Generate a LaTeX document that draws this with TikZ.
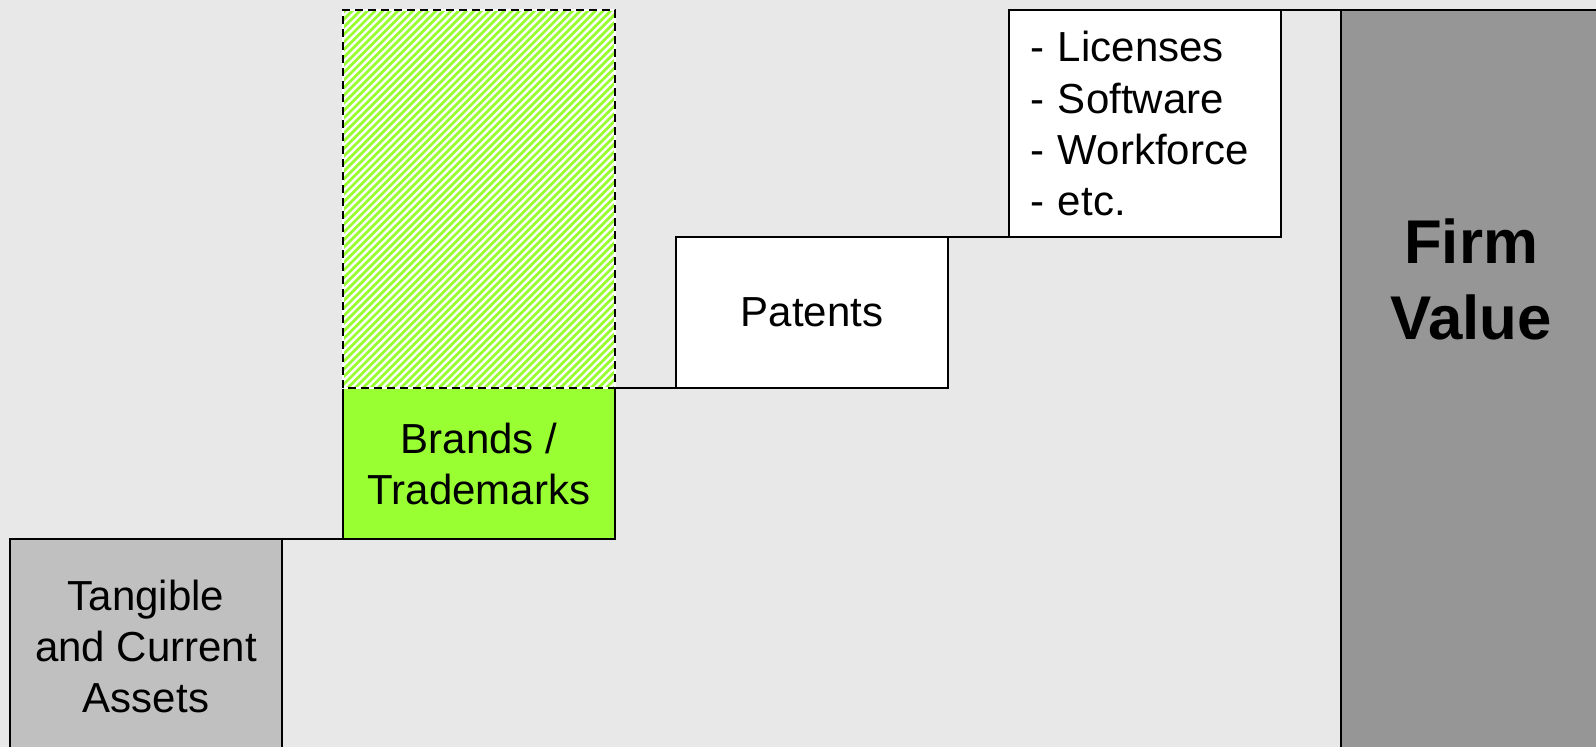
\documentclass[tikz,border=0pt]{standalone}
\usepackage{fontspec}
\setmainfont{Liberation Sans}
\definecolor{bg}{HTML}{E8E8E8}
\definecolor{tanggray}{HTML}{C0C0C0}
\definecolor{firmgray}{HTML}{969696}
\definecolor{brandgreen}{HTML}{99FF33}
\begin{document}
\begin{tikzpicture}[x=1bp,y=-1bp,
  box/.style={draw=black,line width=1.8bp,rectangle,inner sep=0pt,outer sep=0pt,
    minimum width=272bp,align=center,font=\fontsize{42.16}{51.2}\selectfont},
  conn/.style={draw=black,line width=1.8bp},
  hatchline/.style={draw=brandgreen,line width=2.8bp}]
\useasboundingbox (0,0) rectangle (1596,747);
\fill[bg] (0,0) rectangle (1596,747);
\clip (0,0) rectangle (1596,747);
\node[box,fill=tanggray,minimum height=215bp] (tang) at (146,646.5) {Tangible\\and Current\\Assets};
\node[box,fill=brandgreen,minimum height=151bp] (brands) at (479,463.5) {Brands /\\Trademarks};
\node[box,draw=none,fill=white,minimum height=378bp] (pot) at (479,199) {};
\begin{scope}
  \clip (pot.south west) rectangle (pot.north east);
  \foreach \i in {0,...,88} {
    \draw[hatchline] ({-40+\i*7.6},388) -- ({-40+\i*7.6+378},10);
  }
\end{scope}
\draw[white,line width=1.8bp] (pot.south west) rectangle (pot.north east);
\draw[black,line width=1.8bp,dash pattern=on 8bp off 5bp] (pot.south west) rectangle (pot.north east);
\node[box,fill=white,minimum height=151bp] (pat) at (812,312.5) {Patents};
\node[box,fill=white,minimum height=227bp,align=left,text width=230bp,inner xsep=21bp] (lic) at (1145,123.5) {- Licenses\\- Software\\- Workforce\\- etc.};
\node[draw=black,line width=1.8bp,fill=firmgray,rectangle,minimum width=270bp,minimum height=760bp,
  anchor=north west,inner sep=0pt,outer sep=0pt] (firm) at (1341,10) {};
\node[font=\fontsize{62}{76.4}\selectfont\bfseries,align=center,inner sep=0pt] (firmlbl) at (1471,279.5) {Firm\\Value};
\draw[conn] (tang.north east) -- (brands.south west);
\draw[conn] (brands.north east) -- (pat.south west);
\draw[conn] (pat.north east) -- (lic.south west);
\draw[conn] (lic.north east) -- (firm.north west);
\end{tikzpicture}
\end{document}
